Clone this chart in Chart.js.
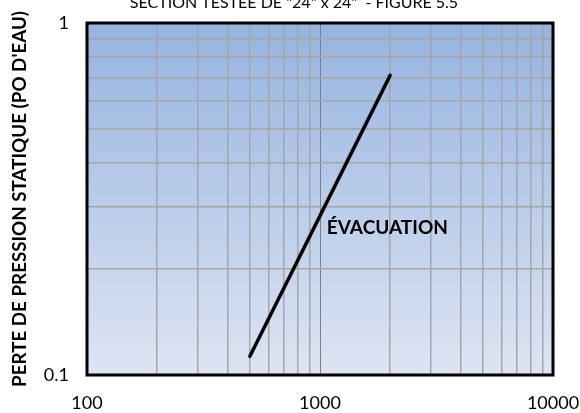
<!DOCTYPE html>
<html>
<head>
<meta charset="utf-8">
<script src="https://cdn.jsdelivr.net/npm/chart.js@4"></script>
<style>
  html, body { margin: 0; padding: 0; background: #fff; }
  #wrap { width: 580px; height: 413px; }
</style>
</head>
<body>
<div id="wrap"><canvas id="pressureChart" width="580" height="413"></canvas></div>
<script>
// data
const flowPoints = [500, 2000];        // x (log)
const pressurePoints = [0.113, 0.71];  // y (log)
const xTickLabels = [100, 1000, 10000];
const yTickLabels = [0.1, 1];
const xGridValues = [100, 200, 300, 400, 500, 600, 700, 800, 900,
                     1000, 2000, 3000, 4000, 5000, 6000, 7000, 8000, 9000, 10000];
const yGridValues = [0.1, 0.2, 0.3, 0.4, 0.5, 0.6, 0.7, 0.8, 0.9, 1];
const titleText = 'SECTION TESTÉE DE "24" x 24"  - FIGURE 5.5';
const yAxisTitle = "PERTE DE PRESSION STATIQUE (PO D'EAU)";
const curveLabel = 'ÉVACUATION';

const FONT = 'Lato, "Open Sans", sans-serif';

// background gradient + frame + texts
const decorPlugin = {
    id: 'decor',
    beforeDraw(chart) {
        const { ctx, chartArea: a } = chart;
        const g = ctx.createLinearGradient(0, a.top, 0, a.bottom);
        g.addColorStop(0, '#95b3e0');
        g.addColorStop(1, '#dde5f3');
        ctx.save();
        ctx.fillStyle = g;
        ctx.fillRect(a.left, a.top, a.right - a.left, a.bottom - a.top);
        ctx.restore();
    },
    afterDraw(chart) {
        const { ctx, chartArea: a, scales } = chart;
        ctx.save();
        ctx.strokeStyle = '#000';
        ctx.lineWidth = 3;
        ctx.strokeRect(a.left, a.top, a.right - a.left, a.bottom - a.top);

        ctx.fillStyle = '#000';
        ctx.font = '16px ' + FONT;
        ctx.textAlign = 'center';
        ctx.textBaseline = 'alphabetic';
        ctx.fillText(titleText, 294, 8);

        ctx.font = 'bold 19px ' + FONT;
        ctx.textAlign = 'left';
        ctx.textBaseline = 'middle';
        ctx.fillText(curveLabel, scales.x.getPixelForValue(1070), scales.y.getPixelForValue(0.262));
        ctx.restore();
    }
};

const sameVal = (a, b) => Math.abs(a - b) < 1e-9 * Math.max(1, b);

const ctx = document.getElementById('pressureChart').getContext('2d');
new Chart(ctx, {
    type: 'line',
    data: {
        datasets: [{
            label: curveLabel,
            data: flowPoints.map((x, i) => ({ x: x, y: pressurePoints[i] })),
            borderColor: '#000',
            borderWidth: 3.5,
            borderCapStyle: 'round',
            pointRadius: 0,
            fill: false,
            tension: 0
        }]
    },
    options: {
        responsive: false,
        animation: false,
        layout: { autoPadding: false, padding: { top: 23, right: 27, bottom: 0, left: 0 } },
        plugins: {
            legend: { display: false },
            tooltip: { enabled: false }
        },
        scales: {
            x: {
                type: 'logarithmic',
                min: 100,
                max: 10000,
                border: { display: false },
                afterBuildTicks: s => { s.ticks = xGridValues.map(v => ({ value: v })); },
                grid: {
                    drawTicks: false,
                    color: c => (c.tick && c.tick.value === 1000) ? '#7f7f7f' : '#a6a6a6',
                    lineWidth: c => (c.tick && c.tick.value === 1000) ? 1 : 1.5
                },
                ticks: {
                    autoSkip: false,
                    maxRotation: 0,
                    padding: 17,
                    color: '#000',
                    font: { family: FONT, size: 18 },
                    callback: v => xTickLabels.some(t => sameVal(v, t)) ? String(v) : ''
                },
                afterFit: s => {
                    s.height = 38;
                    s.paddingLeft = 0;
                    s.paddingRight = 0;
                }
            },
            y: {
                type: 'logarithmic',
                min: 0.1,
                max: 1,
                border: { display: false },
                afterBuildTicks: s => { s.ticks = yGridValues.map(v => ({ value: v })); },
                grid: {
                    drawTicks: false,
                    color: '#a6a6a6',
                    lineWidth: 1.5
                },
                ticks: {
                    autoSkip: false,
                    padding: 18,
                    color: '#000',
                    font: { family: FONT, size: 18 },
                    callback: v => yTickLabels.some(t => sameVal(v, t)) ? String(v) : ''
                },
                title: {
                    display: true,
                    text: yAxisTitle,
                    color: '#000',
                    font: { family: FONT, size: 18.8, weight: 'bold' },
                    padding: { top: 9, bottom: 0 }
                },
                afterFit: s => {
                    s.width = 87;
                    s.paddingTop = 0;
                    s.paddingBottom = 0;
                }
            }
        }
    },
    plugins: [decorPlugin]
});
</script>
</body>
</html>
